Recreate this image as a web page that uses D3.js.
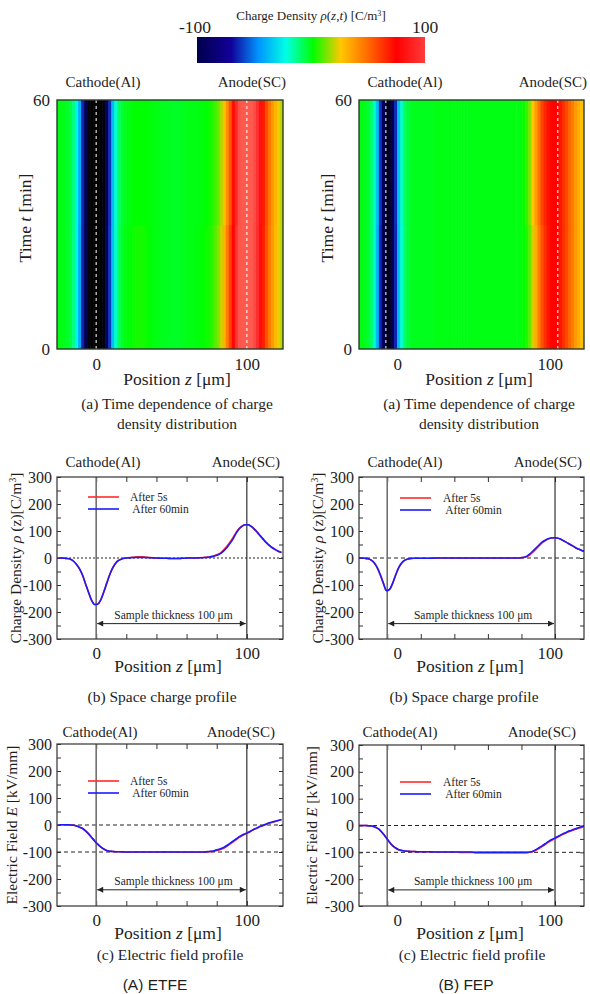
<!DOCTYPE html>
<html>
<head>
<meta charset="utf-8">
<script src="https://cdn.jsdelivr.net/npm/d3@7/dist/d3.min.js"></script>
<style>
  html,body{margin:0;padding:0;background:#fff;}
  text{font-family:"Liberation Serif","Times New Roman",serif;fill:#1e1e1e;}
  text.sans{font-family:"Liberation Sans",Arial,sans-serif;}
</style>
</head>
<body>
<svg id="chart" width="590" height="994"></svg>
<script>
// ---------------- data ----------------
const zPositions = [-25,-23,-21,-19,-17,-15,-13,-11,-9,-7,-5,-3,-1,1,3,5,7,9,11,13,15,17,19,21,23,25,27,29,31,33,35,37,39,41,43,45,47,49,51,53,55,57,59,61,63,65,67,69,71,73,75,77,79,81,83,85,87,89,91,93,95,97,99,101,103,105,107,109,111,113,115,117,119,121,123];

const rhoETFE5s = [0,0,-1,-2,-5,-12,-24,-41,-65,-97,-129,-158,-172, -170,-155,-126,-93,-61,-36,-18,-8,-3,0, 1,2,3,4,4,4,3,2,1,0, 0,-1,-1,-1,-2,-2,-2,-2,-1,-1, 0,0,0,1,1,2,3,4,6,10, 14,21,32,45,60,77,96,110,119,123, 122,116,106,94,81,68,56,46,37,30,24,20];
const rhoETFE60 = [0,0,-1,-2,-5,-12,-24,-40,-64,-96,-128,-157,-172, -171,-156,-127,-94,-62,-37,-19,-9,-4,-1, 0,1,2,2,2,2,2,1,1,0, 0,-1,-1,-1,-2,-2,-2,-2,-1,-1, 0,0,0,0,1,1,2,3,5,8, 12,18,28,40,55,72,92,108,118,123, 123,117,107,95,82,69,57,47,38,31,25,20];

const rhoFEP5s = [0,0,-1,-3,-8,-19,-38,-64,-95,-121,-117,-95,-64, -37,-19,-9,-4,-2,-1,-1,-1,-1,-1, -1,-1,0,0,0,0,0,0,0,0, 0,0,0,0,0,0,0,0,0,0, 0,0,0,0,0,0,0,0,0,0, 1,2,5,12,22,33,45,56,64,70, 74,75,74,70,64,58,51,45,38,33,28,24];
const rhoFEP60 = [0,0,-1,-3,-8,-18,-36,-62,-93,-121,-116,-94,-63, -36,-18,-8,-4,-2,-1,-1,-1,-1,-1, -1,-1,0,0,0,0,0,0,0,0, 0,0,0,0,0,0,0,0,0,0, 0,0,0,0,0,0,0,0,0,0, 1,3,7,15,26,37,48,59,66,71, 74,75,74,70,64,58,51,45,38,33,28,24];

const fieldETFE5s = [1,1,1,1,0,-1,-4,-8,-13,-22,-33,-46,-59, -71,-81,-89,-94,-97,-98,-99,-99,-99,-100, -100,-100,-100,-100,-100,-100,-100,-100,-100,-100, -100,-100,-100,-100,-100,-100,-101,-101,-101,-101, -101,-101,-101,-101,-101,-101,-100,-99,-98,-95, -93,-89,-85,-78,-70,-62,-54,-46,-39,-33, -28,-22,-16,-11,-6,-2,3,7,10,14,17,20];
const fieldETFE60 = [1,1,1,1,0,-1,-4,-8,-13,-22,-33,-46,-59, -71,-81,-89,-94,-97,-98,-99,-99,-99,-100, -100,-100,-100,-100,-100,-100,-100,-100,-100,-100, -100,-100,-100,-100,-100,-100,-100,-100,-100,-100, -100,-100,-100,-100,-100,-100,-99,-98,-97,-94, -91,-87,-82,-75,-67,-59,-51,-43,-37,-32, -27,-21,-15,-10,-5,-1,4,8,11,14,17,20];

const fieldFEP5s = [0,0,0,-1,-2,-5,-10,-19,-32,-47,-62,-75,-84, -90,-93,-95,-96,-97,-97,-98,-98,-98,-98, -98,-98,-99,-99,-99,-99,-99,-99,-99,-99, -100,-100,-100,-100,-100,-101,-101,-101,-101,-101, -101,-101,-101,-101,-101,-101,-101,-101,-101,-101, -101,-101,-101,-100,-97,-92,-86,-79,-71,-63, -56,-50,-44,-38,-32,-27,-22,-18,-14,-10,-7,-4];
const fieldFEP60 = [0,0,0,-1,-2,-5,-10,-19,-32,-47,-62,-75,-84, -90,-93,-95,-96,-97,-97,-98,-98,-98,-98, -98,-98,-99,-99,-99,-99,-99,-99,-99,-99, -99,-99,-99,-99,-99,-100,-100,-100,-100,-100, -100,-100,-100,-100,-100,-100,-100,-100,-100,-100, -100,-100,-100,-99,-96,-90,-83,-76,-68,-60, -53,-48,-42,-36,-30,-25,-20,-16,-12,-8,-5,-2];

const seriesNames = ["After 5s", " After 60min"];
const seriesColors = ["#ff2a2a", "#1a1aff"];

const yTicks = [-300,-200,-100,0,100,200,300];
const yMinorTicks = [-250,-150,-50,50,150,250];
const zTickLabels = [0, 100];
const zMinorA = [0, 20, 40, 60, 80, 100];
const zMinorB = [-6.5, 15.5, 37.5, 59.5, 81.5, 103.5];
const electrodesA = [0, 100];
const electrodesB = [-6.5, 103.5];
const heatElectrodesA = [0, 100];
const heatElectrodesB = [-7.4, 105.3];
const timeTicks = [0, 60];
const heatRowBounds = [0, 30, 60];
const colorbarTicks = [-100, 100];
const colorStops = [0, 0.15, 0.27, 0.39, 0.51, 0.63, 0.75, 0.875, 1];
const colorHex = ["#00004a","#12009a","#0095ff","#00ffe6","#00ff00","#ffc800","#ff6a00","#ff0000","#ff3c3c"];
const underColor = "#000000";
const overColor = "#ff5a4e";
const sampleLabel = "Sample thickness 100 μm";

// ---------------- helpers ----------------
const svg = d3.select("#chart");
const defs = svg.append("defs");

const cbVals = colorStops.map(s => -100 + 200 * s);
const heatColor = d3.scaleLinear()
  .domain([-135, ...cbVals, 112])
  .range([underColor, ...colorHex, overColor])
  .clamp(true);

defs.append("marker").attr("id","arrowEnd").attr("viewBox","0 0 10 10")
  .attr("refX",10).attr("refY",5).attr("markerWidth",8).attr("markerHeight",6)
  .attr("markerUnits","userSpaceOnUse").attr("orient","auto")
  .append("path").attr("d","M0,0L10,5L0,10z").attr("fill","#222");
defs.append("marker").attr("id","arrowStart").attr("viewBox","0 0 10 10")
  .attr("refX",0).attr("refY",5).attr("markerWidth",8).attr("markerHeight",6)
  .attr("markerUnits","userSpaceOnUse").attr("orient","auto")
  .append("path").attr("d","M10,0L0,5L10,10z").attr("fill","#222");

let clipId = 0;
function clip(x0,y0,x1,y1){
  const id = "clip" + (clipId++);
  defs.append("clipPath").attr("id", id).append("rect")
    .attr("x", x0).attr("y", y0).attr("width", x1-x0).attr("height", y1-y0);
  return "url(#" + id + ")";
}

function styleAxis(g, size){
  g.attr("font-family", null).attr("font-size", null);
  g.select(".domain").remove();
  g.selectAll(".tick line").attr("stroke", "#333").attr("stroke-width", 1);
  g.selectAll(".tick text").attr("font-size", size).attr("fill", "#1e1e1e");
}

function richText(g, x, y, parts, size, anchor, rotate){
  const t = g.append("text").attr("font-size", size).attr("text-anchor", anchor || "middle");
  if (rotate) t.attr("transform", `translate(${x},${y}) rotate(-90)`);
  else t.attr("x", x).attr("y", y);
  parts.forEach(p => {
    const s = t.append("tspan").text(p.t);
    if (p.i) s.attr("font-style", "italic");
    if (p.sup) s.attr("baseline-shift", "super").attr("font-size", size * 0.62);
  });
  return t;
}

function positionLabel(g, x, y){
  richText(g, x, y, [{t:"Position "},{t:"z", i:true},{t:" [μm]"}], 17.5);
}

// ---------------- colorbar ----------------
(function(){
  const cbX = d3.scaleLinear().domain([-100, 100]).range([197, 425]);
  const grad = defs.append("linearGradient").attr("id","cbGrad").attr("x1","0%").attr("x2","100%");
  colorStops.forEach((s,i) => grad.append("stop").attr("offset", (s*100)+"%").attr("stop-color", colorHex[i]));
  svg.append("rect").attr("x", cbX(-100)).attr("y", 37).attr("width", cbX(100)-cbX(-100)).attr("height", 26)
    .attr("fill","url(#cbGrad)");
  svg.selectAll(".cbTick").data(colorbarTicks).enter().append("text")
    .attr("x", d => cbX(d) + (d < 0 ? -2 : 0)).attr("y", 33).attr("text-anchor","middle")
    .attr("font-size", 17.5).text(d => d);
  richText(svg, 311, 20, [{t:"Charge Density "},{t:"ρ",i:true},{t:"("},{t:"z",i:true},{t:","},{t:"t",i:true},{t:") [C/m"},{t:"3",sup:true},{t:"]"}], 13);
})();

// ---------------- heatmap panel ----------------
function heatPanel(cfg){
  const {x0,x1,y0,y1,domain,rho5,rho60,electrodes} = cfg;
  const g = svg.append("g");
  const x = d3.scaleLinear().domain(domain).range([x0,x1]);
  const y = d3.scaleLinear().domain([0,60]).range([y1,y0]);
  const cells = g.append("g").attr("clip-path", clip(x0,y0,x1,y1));
  const rows = [rho5, rho60];
  rows.forEach((vals, r) => {
    cells.selectAll(null).data(zPositions).enter().append("rect")
      .attr("x", (d,i) => x(i === 0 ? domain[0] : (zPositions[i-1] + d)/2))
      .attr("width", (d,i) => {
        const a = i === 0 ? domain[0] : (zPositions[i-1] + d)/2;
        const b = i === zPositions.length-1 ? domain[1]+2 : (zPositions[i+1] + d)/2;
        return x(b) - x(a) + 0.6;
      })
      .attr("y", y(heatRowBounds[r+1]))
      .attr("height", y(heatRowBounds[r]) - y(heatRowBounds[r+1]) + 0.6)
      .attr("fill", (d,i) => heatColor(vals[i]));
  });
  g.selectAll(null).data(electrodes).enter().append("line")
    .attr("x1", d => x(d)).attr("x2", d => x(d)).attr("y1", y0).attr("y2", y1)
    .attr("stroke", "#ffffff").attr("stroke-width", 1.2).attr("stroke-dasharray", "3,3").attr("opacity", 0.85);
  g.append("rect").attr("x", x0).attr("y", y0).attr("width", x1-x0).attr("height", y1-y0)
    .attr("fill","none").attr("stroke","#2b3a2b").attr("stroke-width",1.4);
  const ya = g.append("g").attr("transform", `translate(${x0},0)`)
    .call(d3.axisLeft(y).tickValues(timeTicks).tickSize(0).tickPadding(7));
  styleAxis(ya, 17);
  const xa = g.append("g").attr("transform", `translate(0,${y1})`)
    .call(d3.axisBottom(x).tickValues(zTickLabels).tickSize(0).tickPadding(9));
  styleAxis(xa, 17);
  g.append("text").attr("x", x0 + 46).attr("y", y0 - 13).attr("text-anchor","middle").attr("font-size",15).text("Cathode(Al)");
  g.append("text").attr("x", x1 + 3).attr("y", y0 - 13).attr("text-anchor","end").attr("font-size",15).text("Anode(SC)");
  richText(g, x0 - 26, 218, [{t:"Time "},{t:"t",i:true},{t:" [min]"}], 17.5, "middle", true);
  positionLabel(g, x0 + 120, y1 + 36);
  g.append("text").attr("x", x0 + 120).attr("y", y1 + 60).attr("text-anchor","middle").attr("font-size",15.5).text("(a) Time dependence of charge");
  g.append("text").attr("x", x0 + 120).attr("y", y1 + 80).attr("text-anchor","middle").attr("font-size",15.5).text("density distribution");
}

// ---------------- profile panel ----------------
function profilePanel(cfg){
  const {x0,x1,y0,y1,domain,s5,s60,electrodes,minor,refLines,arrowV,leg,labels,ylabelParts,ylabelDx,caption,captionDx,captionY} = cfg;
  const g = svg.append("g");
  const x = d3.scaleLinear().domain(domain).range([x0,x1]);
  const y = d3.scaleLinear().domain([-300,300]).range([y1,y0]);

  g.selectAll(null).data(refLines).enter().append("line")
    .attr("x1", x0).attr("x2", x1).attr("y1", d => y(d.v)).attr("y2", d => y(d.v))
    .attr("stroke", "#222").attr("stroke-width", 1).attr("stroke-dasharray", d => d.dash);

  const left = g.append("g").attr("transform", `translate(${x0},0)`)
    .call(d3.axisLeft(y).tickValues(yTicks.concat(yMinorTicks)).tickSize(-4).tickPadding(5)
      .tickFormat(v => yTicks.includes(v) ? v : ""));
  styleAxis(left, 16);
  const right = g.append("g").attr("transform", `translate(${x1},0)`)
    .call(d3.axisRight(y).tickValues(yTicks.concat(yMinorTicks)).tickSize(-4).tickFormat(""));
  styleAxis(right, 16);
  const bottomTicks = g.append("g").attr("transform", `translate(0,${y1})`)
    .call(d3.axisBottom(x).tickValues(minor).tickSize(-5).tickFormat(""));
  styleAxis(bottomTicks, 16);
  const topTicks = g.append("g").attr("transform", `translate(0,${y0})`)
    .call(d3.axisTop(x).tickValues(minor).tickSize(-5).tickFormat(""));
  styleAxis(topTicks, 16);
  const bottomLabels = g.append("g").attr("transform", `translate(0,${y1})`)
    .call(d3.axisBottom(x).tickValues(zTickLabels).tickSize(0).tickPadding(8));
  styleAxis(bottomLabels, 17);

  g.append("line").attr("x1", x(electrodes[0])).attr("x2", x(electrodes[0])).attr("y1", y0).attr("y2", y1)
    .attr("stroke", "#707070").attr("stroke-width", 1.6);
  g.append("line").attr("x1", x(electrodes[1])).attr("x2", x(electrodes[1])).attr("y1", y0).attr("y2", y1)
    .attr("stroke", "#1e1e1e").attr("stroke-width", 1.1);

  const line = d3.line().x(d => x(d[0])).y(d => y(d[1])).curve(d3.curveMonotoneX);
  const cg = g.append("g").attr("clip-path", clip(x0,y0,x1,y1));
  [s5, s60].forEach((vals, k) => {
    cg.append("path").attr("d", line(zPositions.map((z,i) => [z, vals[i]])))
      .attr("fill","none").attr("stroke", seriesColors[k]).attr("stroke-width", 1.6);
  });

  g.append("rect").attr("x", x0).attr("y", y0).attr("width", x1-x0).attr("height", y1-y0)
    .attr("fill","none").attr("stroke","#333").attr("stroke-width",1.2);

  const ay = y(arrowV);
  g.append("line").attr("x1", x(electrodes[0]) + 1).attr("x2", x(electrodes[1]) - 1).attr("y1", ay).attr("y2", ay)
    .attr("stroke", "#222").attr("stroke-width", 1)
    .attr("marker-start","url(#arrowStart)").attr("marker-end","url(#arrowEnd)");
  g.append("text").attr("x", (x(electrodes[0]) + x(electrodes[1]))/2 + 2).attr("y", ay - 5)
    .attr("text-anchor","middle").attr("font-size", 11.5).text(sampleLabel);

  seriesNames.forEach((name, k) => {
    const ly = y0 + leg.dy + k * 12;
    g.append("line").attr("x1", x0 + leg.dx).attr("x2", x0 + leg.dx + 31).attr("y1", ly).attr("y2", ly)
      .attr("stroke", seriesColors[k]).attr("stroke-width", 1.6);
    g.append("text").attr("x", x0 + leg.tx).attr("y", ly + 3.5).attr("font-size", 11.5)
      .attr("xml:space","preserve").style("white-space","pre").text(name);
  });

  g.append("text").attr("x", x0 + labels.cx).attr("y", y0 - labels.dy).attr("text-anchor","middle").attr("font-size",15).text("Cathode(Al)");
  g.append("text").attr("x", x1 + labels.ax).attr("y", y0 - labels.dy).attr("text-anchor","end").attr("font-size",15).text("Anode(SC)");
  richText(g, x0 + ylabelDx, (y0+y1)/2, ylabelParts, 15.5, "middle", true);
  positionLabel(g, x0 + 111, y1 + 33);
  g.append("text").attr("x", x0 + captionDx).attr("y", captionY).attr("text-anchor","middle").attr("font-size",15.5).text(caption);
}

// ---------------- layout ----------------
heatPanel({x0:57, x1:283, y0:100, y1:349, domain:[-26,124], rho5:rhoETFE5s, rho60:rhoETFE60, electrodes:heatElectrodesA});
heatPanel({x0:359, x1:584, y0:100, y1:349, domain:[-25,122.5], rho5:rhoFEP5s, rho60:rhoFEP60, electrodes:heatElectrodesB});

const rhoLabel = [{t:"Charge Density "},{t:"ρ",i:true},{t:" (z)[C/m"},{t:"3",sup:true},{t:"]"}];
const fieldLabel = [{t:"Electric Field "},{t:"E",i:true},{t:" [kV/mm]"}];

profilePanel({x0:57, x1:283, y0:477, y1:639, domain:[-26,124], s5:rhoETFE5s, s60:rhoETFE60,
  electrodes:electrodesA, minor:zMinorA, refLines:[{v:0, dash:"2,2"}], arrowV:-243,
  leg:{dx:31, dy:20, tx:73}, labels:{cx:46, ax:-3, dy:10}, ylabelParts:rhoLabel, ylabelDx:-36,
  caption:"(b) Space charge profile", captionDx:105, captionY:702});
profilePanel({x0:359, x1:584, y0:477, y1:639, domain:[-25,122.5], s5:rhoFEP5s, s60:rhoFEP60,
  electrodes:electrodesB, minor:zMinorB, refLines:[{v:0, dash:"4,3"}], arrowV:-243,
  leg:{dx:41, dy:21, tx:84}, labels:{cx:46, ax:-2, dy:10}, ylabelParts:rhoLabel, ylabelDx:-36,
  caption:"(b) Space charge profile", captionDx:105, captionY:702});

profilePanel({x0:57, x1:283, y0:744, y1:906, domain:[-26,124], s5:fieldETFE5s, s60:fieldETFE60,
  electrodes:electrodesA, minor:zMinorA, refLines:[{v:0, dash:"4,3"},{v:-100, dash:"4,3"}], arrowV:-240,
  leg:{dx:31, dy:37, tx:73}, labels:{cx:43, ax:-8, dy:7}, ylabelParts:fieldLabel, ylabelDx:-40,
  caption:"(c) Electric field profile", captionDx:113, captionY:960});
profilePanel({x0:359, x1:584, y0:745, y1:906, domain:[-25,122.5], s5:fieldFEP5s, s60:fieldFEP60,
  electrodes:electrodesB, minor:zMinorB, refLines:[{v:0, dash:"4,3"},{v:-100, dash:"4,3"}], arrowV:-240,
  leg:{dx:41, dy:37, tx:84}, labels:{cx:41, ax:-8, dy:8}, ylabelParts:fieldLabel, ylabelDx:-42,
  caption:"(c) Electric field profile", captionDx:113, captionY:960});

svg.append("text").attr("class","sans").attr("x", 155).attr("y", 990).attr("text-anchor","middle")
  .attr("font-size",15.5).text("(A) ETFE");
svg.append("text").attr("class","sans").attr("x", 466).attr("y", 990).attr("text-anchor","middle")
  .attr("font-size",15.5).text("(B) FEP");
</script>
</body>
</html>
